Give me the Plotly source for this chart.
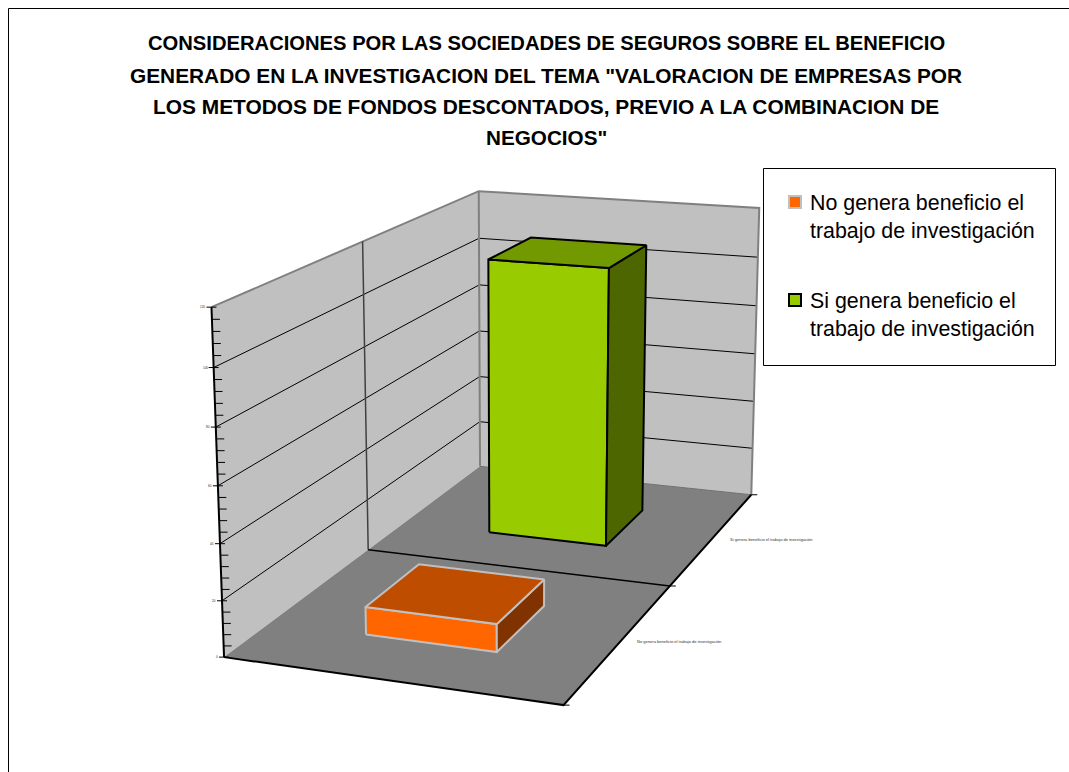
import numpy as np
import plotly.graph_objects as go

# Chart content
title_lines = [
    "CONSIDERACIONES POR LAS SOCIEDADES DE SEGUROS SOBRE EL BENEFICIO",
    "GENERADO EN LA INVESTIGACION DEL TEMA \"VALORACION DE EMPRESAS POR",
    "LOS METODOS DE FONDOS DESCONTADOS, PREVIO A LA COMBINACION DE",
    "NEGOCIOS\"",
]
series_names = [
    "No genera beneficio el trabajo de investigación",
    "Si genera beneficio el trabajo de investigación",
]
legend_names = [
    "No genera beneficio el<br>trabajo de investigación",
    "Si genera beneficio el<br>trabajo de investigación",
]
series_values = [10, 109]
major_ticks = [0, 20, 40, 60, 80, 100, 120]
minor_step = 4

# Bar colours per series: front, top, side, outline
bar_front = ["#FF6600", "#99CC00"]
bar_top = ["#BF4D00", "#739900"]
bar_side = ["#803300", "#4D6600"]
bar_edge = ["#C0C0C0", "#000000"]

BAR_SHARE = 0.4  # gap width and gap depth of 150 %
Z_MAX = major_ticks[-1]
DEPTH = len(series_values)

# Perspective camera for the (category, series depth, value) box
calib = [
    ((0, 0, 0), (224, 657)), ((1, 0, 0), (564, 705)),
    ((0, 2, 0), (480, 467)), ((1, 2, 0), (751, 494)),
    ((0, 1, 0), (368, 549)), ((1, 1, 0), (670, 587)),
    ((0, 0, 120), (212, 307)), ((0, 2, 120), (480, 191)),
    ((1, 2, 120), (759, 208)), ((0, 1, 120), (361, 242)),
]


def fit_camera(pairs):
    rows, rhs = [], []
    for (x, d, z), (u, v) in pairs:
        z = z / Z_MAX
        rows.append([x, d, z, 1, 0, 0, 0, 0, -u * x, -u * d, -u * z])
        rows.append([0, 0, 0, 0, x, d, z, 1, -v * x, -v * d, -v * z])
        rhs += [u, v]
    p = np.linalg.lstsq(np.array(rows, float), np.array(rhs, float), rcond=None)[0]
    return np.append(p, 1.0).reshape(3, 4)


CAM = fit_camera(calib)


def project(x, d, z):
    h = CAM @ np.array([x, d, z / Z_MAX, 1.0])
    return h[0] / h[2], h[1] / h[2]


def path(points):
    pts = [project(*p) for p in points]
    return [p[0] for p in pts], [p[1] for p in pts]


fig = go.Figure()


def poly(points, fill, edge=None, width=2):
    xs, ys = path(points + points[:1])
    fig.add_trace(go.Scatter(
        x=xs, y=ys, mode="lines", fill="toself", fillcolor=fill,
        line=dict(color=edge or fill, width=width if edge else 0),
        showlegend=False, hoverinfo="skip"))


def polyline(points, color, width=1):
    xs, ys = path(points)
    fig.add_trace(go.Scatter(
        x=xs, y=ys, mode="lines", line=dict(color=color, width=width),
        showlegend=False, hoverinfo="skip"))


# Walls and floor
poly([(0, 0, 0), (0, DEPTH, 0), (0, DEPTH, Z_MAX), (0, 0, Z_MAX)], "#C0C0C0")
poly([(0, DEPTH, 0), (1, DEPTH, 0), (1, DEPTH, Z_MAX), (0, DEPTH, Z_MAX)], "#C0C0C0")
poly([(0, 0, 0), (1, 0, 0), (1, DEPTH, 0), (0, DEPTH, 0)], "#808080")

# Gridlines across both walls
for t in major_ticks[1:-1]:
    polyline([(0, 0, t), (0, DEPTH, t), (1, DEPTH, t)], "#000000", 1)

# Wall outlines
polyline([(0, 0, Z_MAX), (0, DEPTH, Z_MAX), (1, DEPTH, Z_MAX), (1, DEPTH, 0)], "#808080", 2)
polyline([(0, DEPTH, Z_MAX), (0, DEPTH, 0)], "#808080", 2)
polyline([(0, 1, Z_MAX), (0, 1, 0)], "#404040", 1.5)

# Floor edges and series divider
polyline([(0, DEPTH, 0), (1, DEPTH, 0)], "#707070", 1)
polyline([(0, 1, 0), (1, 1, 0)], "#000000", 1.5)
polyline([(0, 0, 0), (1, 0, 0), (1, DEPTH, 0)], "#000000", 2)
polyline([(0, 0, 0), (0, 0, Z_MAX)], "#000000", 2)

# Bars, back row first so the nearer one overlaps
x0, x1 = (1 - BAR_SHARE) / 2, (1 + BAR_SHARE) / 2
for i in range(len(series_values) - 1, -1, -1):
    v = series_values[i]
    d0, d1 = i + (1 - BAR_SHARE) / 2, i + (1 + BAR_SHARE) / 2
    poly([(x0, d0, 0), (x1, d0, 0), (x1, d0, v), (x0, d0, v)], bar_front[i], bar_edge[i])
    poly([(x1, d0, 0), (x1, d1, 0), (x1, d1, v), (x1, d0, v)], bar_side[i], bar_edge[i])
    poly([(x0, d0, v), (x1, d0, v), (x1, d1, v), (x0, d1, v)], bar_top[i], bar_edge[i])

# Value axis ticks: majors cross the axis, minors point into the wall
annotations = []
for t in range(0, Z_MAX + 1, minor_step):
    u, v = project(0, 0, t)
    is_major = t in major_ticks
    left = u - 5 if is_major else u
    right = u + (5 if is_major else 8)
    fig.add_trace(go.Scatter(x=[left, right], y=[v, v], mode="lines",
                             line=dict(color="#000000", width=1),
                             showlegend=False, hoverinfo="skip"))
    if is_major:
        annotations.append(dict(x=u - 4, y=v, text=str(t), showarrow=False, xanchor="right",
                                yanchor="middle", font=dict(size=3, color="#222222")))

# Depth axis ticks on the right floor edge
for d in range(DEPTH + 1):
    u, v = project(1, d, 0)
    fig.add_trace(go.Scatter(x=[u, u + 6], y=[v, v], mode="lines",
                             line=dict(color="#000000", width=1),
                             showlegend=False, hoverinfo="skip"))

# Series labels beyond the right floor edge
for i, (name, dy) in enumerate(zip(series_names, [0, 2])):
    u, v = project(1, i + 0.5, 0)
    annotations.append(dict(x=u + 58.5, y=v + dy, text=name, showarrow=False, xanchor="center",
                            yanchor="middle", font=dict(size=4.05, color="#333333")))

# Title lines
for line, y, size in zip(title_lines, [43, 75, 106, 137], [20.2, 20.85, 20.9, 20.7]):
    annotations.append(dict(x=546, y=y, text=line, showarrow=False, xanchor="center",
                            yanchor="middle",
                            font=dict(family="Liberation Sans", size=size, color="#000000",
                                      weight="bold")))

# Legend entries: swatch beside the first line of a two-line name
legend_y = [202, 300]
for i, name in enumerate(legend_names):
    annotations.append(dict(x=808, y=legend_y[i] + 14.5, text=name, showarrow=False,
                            xanchor="left", yanchor="middle", align="left",
                            font=dict(family="Liberation Sans", size=21.4, color="#000000")))

fig.update_layout(
    width=1069, height=772, margin=dict(l=0, r=0, t=0, b=0),
    paper_bgcolor="#FFFFFF", plot_bgcolor="#FFFFFF",
    showlegend=False,
    xaxis=dict(range=[0, 1069], visible=False, fixedrange=True),
    yaxis=dict(range=[772, 0], visible=False, fixedrange=True),
    annotations=annotations,
    shapes=[
        dict(type="rect", x0=8.5, y0=8.5, x1=1090, y1=790, line=dict(color="#000000", width=1),
             layer="below"),
        dict(type="rect", x0=763.5, y0=168.5, x1=1055.5, y1=365.5, fillcolor="#FFFFFF",
             line=dict(color="#000000", width=1), layer="below"),
    ],
    font=dict(family="Liberation Sans"),
)

for i, name in enumerate(series_names):
    fig.add_trace(go.Scatter(
        x=[795], y=[legend_y[i]], mode="markers", name=name, hoverinfo="name",
        marker=dict(symbol="square", size=12, color=bar_front[i],
                    line=dict(color=bar_edge[i], width=2))))

fig.write_html("out.html")
